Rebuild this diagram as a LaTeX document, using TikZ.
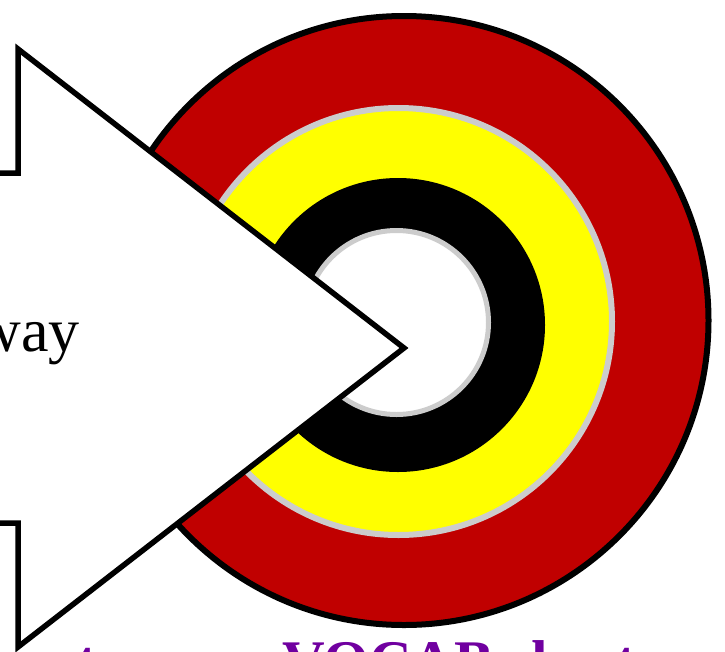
\documentclass[tikz,border=0pt]{standalone}
\usepackage{fontspec}
\setmainfont{Liberation Serif}
\usepackage{tikz}
\usetikzlibrary{calc}
\definecolor{ringred}{RGB}{192,0,0}
\definecolor{ringyellow}{RGB}{255,255,0}
\definecolor{ringgray}{RGB}{204,204,204}
\definecolor{vocabpurple}{RGB}{112,0,160}

\begin{document}
\begin{tikzpicture}[x=1pt, y=-1pt]
    \useasboundingbox (0,0) rectangle (725,651);
    % target rings
    \begin{scope}
      \draw[line width=6pt, black, fill=ringred] (404,320.5) circle (304.5pt);
      \draw[line width=6pt, ringgray, fill=ringyellow] (398.5,321.5) circle (213.5pt);
      \fill[black] (398,325) circle (147pt);
      \draw[line width=5pt, ringgray, fill=white] (396.5,322.5) circle (92pt);
    \end{scope}
    % big arrow pointing at the centre
    \coordinate (tip) at (404,348);
    \draw[line width=5.5pt, black, fill=white, line join=miter]
      (-40,173) -- (18,173) -- (18,49) -- (tip) -- (18,647) -- (18,523) -- (-40,523) -- cycle;
    \node[anchor=base east, inner sep=0pt, font=\fontsize{62}{64}\selectfont] (way) at (80,351) {way};
    % caption below
    \node[anchor=base west, inner sep=0pt, text=vocabpurple, font=\fontsize{59}{61}\selectfont\bfseries] (caption) at (77,681) {to use a VOCAB sheet};
\end{tikzpicture}
\end{document}
